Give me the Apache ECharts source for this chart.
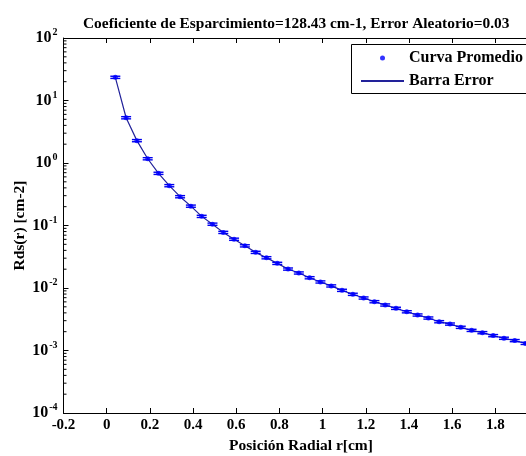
<!DOCTYPE html>
<html><head><meta charset="utf-8">
<script src="https://cdn.jsdelivr.net/npm/echarts@6/dist/echarts.min.js"></script>
<style>html,body{margin:0;padding:0;background:#fff}#c{width:526px;height:456px}</style>
</head><body><div id="c"></div>
<script>
const titleText = 'Coeficiente de Esparcimiento=128.43 cm-1, Error Aleatorio=0.03';
const radialPos = [0.04,0.09,0.14,0.19,0.24,0.29,0.34,0.39,0.44,0.49,0.54,0.59,0.64,0.69,0.74,0.79,0.84,0.89,0.94,0.99,1.04,1.09,1.14,1.19,1.24,1.29,1.34,1.39,1.44,1.49,1.54,1.59,1.64,1.69,1.74,1.79,1.84,1.89,1.94];
const rdsValues = [23.5,5.3,2.28,1.17,0.684,0.434,0.289,0.204,0.140,0.105,0.0776,0.0603,0.0473,0.0372,0.0305,0.0248,0.0201,0.0174,0.0146,0.0125,0.0108,0.00918,0.00793,0.00692,0.00604,0.00535,0.00473,0.00417,0.00370,0.00331,0.00289,0.00265,0.00235,0.00210,0.00193,0.00173,0.00157,0.00144,0.00130];
const relErr = 0.04;
const xMin = -0.2, xMax = 2.0, xStep = 0.2;
const yMin = 1e-4, yMax = 100;
const minorTickVals = [];
for (let e = -4; e < 2; e++) for (let m = 2; m <= 9; m++) minorTickVals.push(m * Math.pow(10, e));

const points = radialPos.map((r, i) => [r, rdsValues[i]]);
const serif = '"Liberation Serif","DejaVu Serif",serif';
const chart = echarts.init(document.getElementById('c'), null, {renderer: 'canvas'});
chart.setOption({
  animation: false,
  backgroundColor: '#fff',
  title: {text: titleText, left: 78, top: 12,
    textStyle: {fontFamily: serif, fontWeight: 'bold', fontSize: 15.4, color: '#000'}},
  graphic: [{type: 'rect', z: 1,
    shape: {x: 351.5, y: 44.5, width: 220, height: 49}, style: {fill: '#fff', stroke: '#000', lineWidth: 1}}],
  legend: {
    orient: 'vertical', left: 351, top: 44, padding: [5, 0, 4, 9], z: 10,
    itemWidth: 43, itemHeight: 5, itemGap: 5,
    textStyle: {fontFamily: serif, fontWeight: 'bold', fontSize: 16, color: '#000', lineHeight: 18},
    data: [{name: 'Curva Promedio', icon: 'circle'},
           {name: 'Barra Error', itemStyle: {opacity: 0}}]
  },
  grid: {left: 63.5, top: 38, width: 475, bottom: 43, containLabel: false, outerBoundsMode: 'none'},
  xAxis: [{
    type: 'value', min: xMin, max: xMax, interval: xStep, position: 'bottom',
    name: 'Posición Radial r[cm]', nameLocation: 'middle', nameGap: 23,
    nameTextStyle: {fontFamily: serif, fontWeight: 'bold', fontSize: 15.5, color: '#000'},
    axisLine: {show: true, onZero: false, lineStyle: {color: '#000', width: 1}},
    axisTick: {show: true, inside: true, length: 5, lineStyle: {color: '#000'}},
    axisLabel: {margin: 5, fontFamily: serif, fontWeight: 'bold', fontSize: 15, color: '#000',
      formatter: v => (Math.abs(v) < 1e-9 ? '0' : String(+v.toFixed(1)))},
    splitLine: {show: false}
  }, {
    type: 'value', min: xMin, max: xMax, interval: xStep, position: 'top',
    axisLine: {show: true, onZero: false, lineStyle: {color: '#000', width: 1}},
    axisTick: {show: true, inside: true, length: 5, lineStyle: {color: '#000'}},
    axisLabel: {show: false}, splitLine: {show: false}
  }],
  yAxis: {
    type: 'log', logBase: 10, min: yMin, max: yMax, splitNumber: 6,
    name: 'Rds(r) [cm-2]', nameLocation: 'middle', nameGap: 36, nameMoveOverlap: false,
    nameTextStyle: {fontFamily: serif, fontWeight: 'bold', fontSize: 15.5, color: '#000'},
    axisLine: {show: true, onZero: false, lineStyle: {color: '#000', width: 1}},
    axisTick: {show: true, inside: true, length: 5, lineStyle: {color: '#000'}},
    splitLine: {show: false},
    axisLabel: {margin: 6, color: '#000',
      formatter: v => '{b|10}{s|' + Math.round(Math.log10(v)) + '}',
      rich: {
        b: {fontFamily: serif, fontWeight: 'bold', fontSize: 16, color: '#000'},
        s: {fontFamily: serif, fontWeight: 'bold', fontSize: 10, color: '#000', padding: [0, 0, 11, 1]}
      }}
  },
  series: [{
    name: 'Barra Error', type: 'line', data: points, symbol: 'none',
    lineStyle: {color: '#22229a', width: 1.2}, itemStyle: {color: '#22229a'}, z: 2
  }, {
    name: 'errbars', type: 'custom', data: points, z: 3, silent: true,
    renderItem: (params, api) => {
      const x = api.value(0), y = api.value(1);
      const t = api.coord([x, y * (1 + relErr)]), b = api.coord([x, y * (1 - relErr)]);
      const h = 5, st = {stroke: '#0000ee', lineWidth: 1.4};
      return {type: 'group', children: [
        {type: 'line', shape: {x1: t[0], y1: t[1], x2: b[0], y2: b[1]}, style: st},
        {type: 'line', shape: {x1: t[0] - h, y1: t[1], x2: t[0] + h, y2: t[1]}, style: st},
        {type: 'line', shape: {x1: b[0] - h, y1: b[1], x2: b[0] + h, y2: b[1]}, style: st}
      ]};
    }
  }, {
    name: 'Curva Promedio', type: 'scatter', data: points, symbol: 'circle', symbolSize: 5,
    itemStyle: {color: '#0000ff'}, z: 4
  }, {
    name: 'minor', type: 'custom', data: minorTickVals.map(v => [xMin, v]), z: 5, silent: true, clip: false,
    renderItem: (params, api) => {
      const p = api.coord([api.value(0), api.value(1)]);
      return {type: 'line', shape: {x1: p[0], y1: p[1], x2: p[0] + 3, y2: p[1]}, style: {stroke: '#000', lineWidth: 1}};
    }
  }]
});
</script></body></html>
